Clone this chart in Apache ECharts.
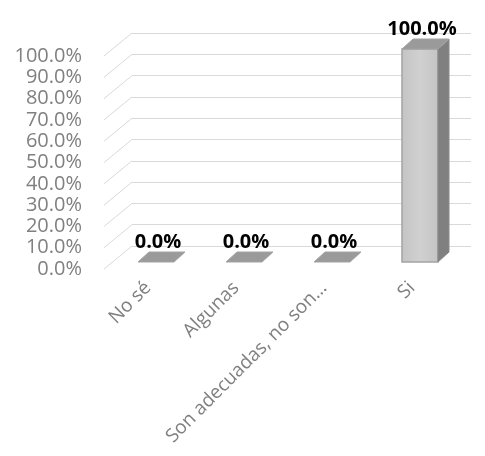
<!DOCTYPE html>
<html><head><meta charset="utf-8">
<script src="https://cdn.jsdelivr.net/npm/echarts@6/dist/echarts.min.js"></script>
<style>html,body{margin:0;padding:0;background:#fff}#c{width:485px;height:456px}</style>
</head><body><div id="c"></div>
<script>
const categories = ['No sé', 'Algunas', 'Son adecuadas, no son…', 'Si'];
const values = [0, 0, 0, 100];
const yTicks = [0, 10, 20, 30, 40, 50, 60, 70, 80, 90, 100];

const FONT = '"Open Sans", sans-serif';
const DX = 11, DY = -10;     // bar depth offset
const WX = 28, WY = -23;     // side wall depth offset

const chart = echarts.init(document.getElementById('c'), null, {renderer: 'canvas'});
const hiddenX = (gi) => ({type: 'category', gridIndex: gi, data: categories, show: false});
const hiddenY = (gi) => ({type: 'value', gridIndex: gi, min: 0, max: 100, interval: 10, show: false});

chart.setOption({
  animation: false,
  grid: [
    {left: 104, right: 29, top: 56, bottom: 187},   // front plane (labels)
    {left: 132, right: 14, top: 33, bottom: 210},   // back wall
    {left: 112, right: 21, top: 49, bottom: 194}    // bar front plane
  ],
  xAxis: [
    {type: 'category', gridIndex: 0, data: categories,
     axisLine: {show: false}, axisTick: {show: false},
     axisLabel: {rotate: 45, margin: 16, color: '#808080', fontSize: 19, fontFamily: FONT, interval: 0}},
    hiddenX(1), hiddenX(2)
  ],
  yAxis: [
    {type: 'value', gridIndex: 0, min: 0, max: 100, interval: 10,
     axisLine: {show: false}, axisTick: {show: false}, splitLine: {show: false},
     axisLabel: {margin: 22, color: '#808080', fontSize: 20, fontFamily: FONT,
                 padding: [9, 0, 0, 0],
                 formatter: v => v.toFixed(1) + '%'}},
    {type: 'value', gridIndex: 1, min: 0, max: 100, interval: 10,
     axisLine: {show: false}, axisTick: {show: false}, axisLabel: {show: false},
     splitLine: {show: true, lineStyle: {color: '#d9d9d9', width: 1}}},
    hiddenY(2)
  ],
  series: [
    {
      type: 'custom', xAxisIndex: 0, yAxisIndex: 0, silent: true,
      data: yTicks.map(v => [0, v]),
      renderItem: (params, api) => {
        const p = api.coord([0, api.value(1)]);
        const x = params.coordSys.x;
        return {type: 'line', shape: {x1: x, y1: p[1], x2: x + WX, y2: p[1] + WY},
                style: {stroke: '#d9d9d9', lineWidth: 1}};
      }
    },
    {
      type: 'custom', xAxisIndex: 2, yAxisIndex: 2, silent: true,
      data: values.map((v, i) => [i, v]),
      renderItem: (params, api) => {
        const i = api.value(0), v = api.value(1);
        const base = api.coord([i, 0]);
        const top = api.coord([i, v]);
        const w = 36;
        const x0 = base[0] - w / 2, x1 = x0 + w;
        const yt = top[1], yb = base[1];
        const children = [];
        if (yb - yt > 0.5) {
          children.push({type: 'rect', shape: {x: x0, y: yt, width: w, height: yb - yt},
            style: {fill: new echarts.graphic.LinearGradient(0, 0, 1, 0, [
              {offset: 0, color: '#c4c4c4'}, {offset: 0.5, color: '#d0d0d0'}, {offset: 1, color: '#c4c4c4'}]),
              stroke: '#a3a3a3', lineWidth: 1.5}});
          children.push({type: 'polygon', shape: {points: [[x1, yt], [x1 + DX, yt + DY], [x1 + DX, yb + DY], [x1, yb]]},
            style: {fill: '#808080', stroke: '#8a8a8a', lineWidth: 1}});
        }
        children.push({type: 'polygon', shape: {points: [[x0, yt], [x1, yt], [x1 + DX, yt + DY], [x0 + DX, yt + DY]]},
          style: {fill: '#9a9a9a', stroke: '#a3a3a3', lineWidth: 1}});
        children.push({type: 'text', style: {
          x: base[0] + 2, y: yt - 20, text: v.toFixed(1) + '%',
          align: 'center', verticalAlign: 'middle',
          fill: '#000', font: 'bold 20px ' + FONT}});
        return {type: 'group', children};
      }
    }
  ]
});
</script></body></html>
